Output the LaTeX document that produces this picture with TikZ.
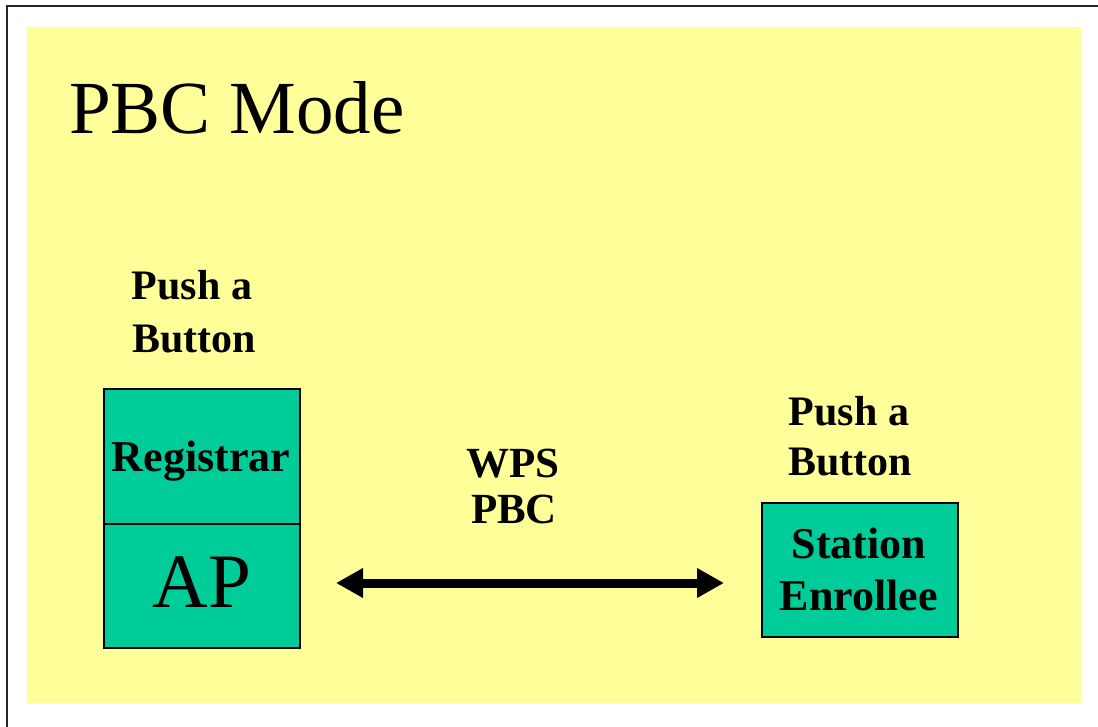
\documentclass[tikz,border=0pt]{standalone}
\usepackage{fontspec}
\setmainfont{Liberation Serif}
\usetikzlibrary{arrows.meta}
\definecolor{bgyellow}{HTML}{FFFF99}
\definecolor{boxteal}{HTML}{00CC99}
\tikzset{
  tealbox/.style={draw=black, line width=2pt, fill=boxteal, inner sep=0pt, anchor=north west},
  boldlbl/.style={anchor=base, inner sep=0pt, font=\fontsize{42}{42}\selectfont\bfseries},
  boxlbl/.style={anchor=base, inner sep=0pt, font=\fontsize{44}{44}\selectfont\bfseries},
  biglbl/.style={anchor=base, inner sep=0pt, font=\fontsize{75}{75}\selectfont},
  link/.style={line width=9pt, {Triangle[length=27pt,width=28pt]}-{Triangle[length=27pt,width=28pt]}}
}
\begin{document}
\begin{tikzpicture}[x=1pt,y=-1pt]
\useasboundingbox (0,0) rectangle (1098,726);
\fill[white] (0,0) rectangle (1098,726);
\draw[line width=2pt, color=black!85] (7,727) -- (7,6) -- (1099,6);
\fill[bgyellow] (27,27) rectangle (1081,703);
% title
\node[biglbl, anchor=base west] (title) at (69,133) {PBC Mode};
% left labels
\node[boldlbl] (lpush) at (192,299) {Push a};
\node[boldlbl] (lbtn) at (194,352) {Button};
% registrar / AP
\node[tealbox, minimum width=196pt, minimum height=135pt] (reg) at (103,388) {};
\node[tealbox, minimum width=196pt, minimum height=124pt] (ap) at (103,523) {};
\node[boxlbl] (regtxt) at (201,471) {Registrar};
\node[biglbl, font=\fontsize{77}{77}\selectfont] (aptxt) at (202,607) {AP};
% WPS PBC
\node[boldlbl, font=\fontsize{43}{43}\selectfont\bfseries] (wps) at (513,477) {WPS};
\node[boldlbl, font=\fontsize{43}{43}\selectfont\bfseries] (pbc) at (514,523) {PBC};
% right labels
\node[boldlbl] (rpush) at (849,425) {Push a};
\node[boldlbl] (rbtn) at (850,475) {Button};
% station
\node[tealbox, minimum width=196pt, minimum height=134pt] (sta) at (761,502) {};
\node[boxlbl] (statxt) at (859,558) {Station};
\node[boxlbl] (enrtxt) at (859,610) {Enrollee};
% arrow
\coordinate (al) at (336,583);
\coordinate (ar) at (724,583);
\draw[link] (al) -- (ar);
\end{tikzpicture}
\end{document}
